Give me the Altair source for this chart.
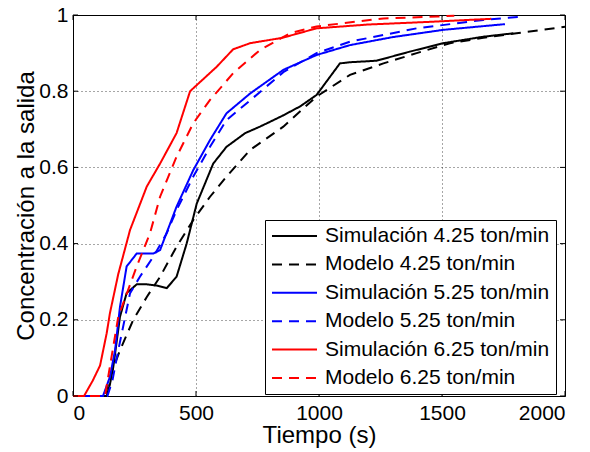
import altair as alt
import pandas as pd

# ---- data ----
series_names = [
    "Simulación 4.25 ton/min",
    "Modelo 4.25 ton/min",
    "Simulación 5.25 ton/min",
    "Modelo 5.25 ton/min",
    "Simulación 6.25 ton/min",
    "Modelo 6.25 ton/min",
]
series_colors = ["#000000", "#000000", "#0000ff", "#0000ff", "#ff0000", "#ff0000"]
series_dash = [[1, 0], [10, 7], [1, 0], [10, 7], [1, 0], [10, 7]]

t_sim425 = [0, 137, 150, 164, 191, 218, 259, 300, 340, 381, 421, 462, 503, 570, 624, 700, 760, 850, 923, 990, 1045, 1085, 1126, 1234, 1370, 1505, 1668, 1790]
c_sim425 = [0, 0, 0.03, 0.077, 0.208, 0.27, 0.293, 0.293, 0.29, 0.283, 0.313, 0.40, 0.505, 0.61, 0.654, 0.69, 0.707, 0.735, 0.76, 0.79, 0.838, 0.873, 0.876, 0.88, 0.904, 0.926, 0.943, 0.952]

t_mod425 = [0, 130, 150, 191, 245, 300, 354, 421, 489, 557, 624, 720, 855, 990, 1126, 1262, 1397, 1532, 1668, 1803, 2000]
c_mod425 = [0, 0, 0.05, 0.12, 0.2, 0.26, 0.313, 0.392, 0.462, 0.523, 0.576, 0.646, 0.707, 0.786, 0.843, 0.873, 0.90, 0.926, 0.94, 0.952, 0.969]

t_sim525 = [0, 122, 150, 171, 191, 218, 259, 327, 354, 421, 489, 557, 624, 720, 855, 990, 1126, 1300, 1505, 1756]
c_sim525 = [0, 0, 0.05, 0.12, 0.234, 0.34, 0.374, 0.374, 0.383, 0.497, 0.593, 0.672, 0.742, 0.794, 0.856, 0.895, 0.921, 0.942, 0.961, 0.976]

t_mod525 = [0, 140, 160, 184, 232, 272, 327, 381, 421, 489, 557, 624, 720, 855, 990, 1126, 1397, 1668, 1830]
c_mod525 = [0, 0, 0.04, 0.12, 0.27, 0.313, 0.366, 0.427, 0.488, 0.576, 0.654, 0.724, 0.776, 0.85, 0.90, 0.93, 0.965, 0.987, 0.996]

t_sim625 = [0, 45, 80, 110, 137, 150, 184, 232, 300, 354, 421, 476, 584, 651, 720, 850, 990, 1200, 1450, 1700]
c_sim625 = [0, 0, 0.04, 0.08, 0.165, 0.217, 0.32, 0.436, 0.55, 0.61, 0.69, 0.80, 0.864, 0.91, 0.926, 0.94, 0.965, 0.975, 0.982, 0.99]

t_mod625 = [0, 130, 150, 184, 259, 313, 354, 421, 489, 557, 651, 720, 760, 882, 990, 1262, 1480, 1550]
c_mod625 = [0, 0, 0.077, 0.208, 0.34, 0.427, 0.523, 0.628, 0.716, 0.777, 0.847, 0.886, 0.908, 0.952, 0.97, 0.991, 0.996, 0.998]

x_ticks = [0, 500, 1000, 1500, 2000]
y_ticks = [0, 0.2, 0.4, 0.6, 0.8, 1]

all_t = [t_sim425, t_mod425, t_sim525, t_mod525, t_sim625, t_mod625]
all_c = [c_sim425, c_mod425, c_sim525, c_mod525, c_sim625, c_mod625]

rows = []
for name, ts, cs in zip(series_names, all_t, all_c):
    for i, (t, c) in enumerate(zip(ts, cs)):
        rows.append({"serie": name, "t": t, "c": c, "i": i})
df = pd.DataFrame(rows)

W, H = 492, 381
FONT = "Liberation Sans"

xscale = alt.Scale(domain=[0, 2000], nice=False, zero=False)
yscale = alt.Scale(domain=[0, 1], nice=False, zero=False)

x_axis = alt.Axis(values=x_ticks, title="Tiempo (s)", format="d",
                  labelFont=FONT, labelFontSize=21, labelColor="black", labelPadding=6,
                  titleFont=FONT, titleFontSize=24, titleFontWeight="normal", titleColor="black",
                  titleBaseline="alphabetic", titleY=46)
y_axis = alt.Axis(values=y_ticks, title="Concentración a la salida",
                  labelExpr="datum.value == 0 ? '0' : datum.value == 1 ? '1' : format(datum.value, '.1f')",
                  labelFont=FONT, labelFontSize=21, labelColor="black", labelPadding=5,
                  titleFont=FONT, titleFontSize=24, titleFontWeight="normal", titleColor="black",
                  titleBaseline="alphabetic", titleX=-40)

lines = alt.Chart(df).mark_line(strokeWidth=2, clip=False).encode(
    x=alt.X("t:Q", scale=xscale, axis=x_axis),
    y=alt.Y("c:Q", scale=yscale, axis=y_axis),
    order="i:Q",
    color=alt.Color("serie:N", scale=alt.Scale(domain=series_names, range=series_colors),
                    legend=alt.Legend(title=None, orient="none", legendX=192, legendY=205,
                                      symbolType="stroke", symbolSize=2025, symbolStrokeWidth=2,
                                      labelFontSize=21, labelFont=FONT, labelColor="black",
                                      labelLimit=400, labelOffset=7,
                                      strokeColor="black", fillColor="white", padding=6,
                                      clipHeight=20, rowPadding=7.4)),
    strokeDash=alt.StrokeDash("serie:N", scale=alt.Scale(domain=series_names, range=series_dash)),
)

xt = pd.DataFrame({"v": x_ticks})
yt = pd.DataFrame({"v": y_ticks})
tick_bottom = alt.Chart(xt).mark_rule(color="black").encode(
    x=alt.X("v:Q", scale=xscale, axis=x_axis), y=alt.value(H), y2=alt.value(H - 5))
tick_top = alt.Chart(xt).mark_rule(color="black").encode(
    x=alt.X("v:Q", scale=xscale, axis=x_axis), y=alt.value(0), y2=alt.value(5))
tick_left = alt.Chart(yt).mark_rule(color="black").encode(
    y=alt.Y("v:Q", scale=yscale, axis=y_axis), x=alt.value(0), x2=alt.value(5))
tick_right = alt.Chart(yt).mark_rule(color="black").encode(
    y=alt.Y("v:Q", scale=yscale, axis=y_axis), x=alt.value(W), x2=alt.value(W - 5))

chart = alt.layer(lines, tick_bottom, tick_top, tick_left, tick_right).properties(
    width=W, height=H,
    padding={"left": 73, "top": 15, "right": 25, "bottom": 56},
    autosize=alt.AutoSizeParams(type="none"),
).configure_view(
    stroke="black", strokeWidth=1
).configure_axis(
    domain=False, ticks=False, tickSize=0, grid=True, gridColor="black", gridDash=[1, 3],
    gridOpacity=0.7,
)

chart.save("out.html", embed_options={"renderer": "svg", "actions": False})
